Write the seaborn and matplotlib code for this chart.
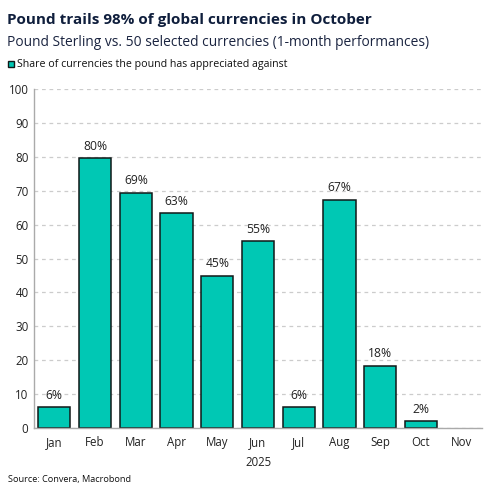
import matplotlib
matplotlib.use("Agg")
import matplotlib.pyplot as plt
import seaborn as sns
import pandas as pd
import numpy as np
from matplotlib.patches import Rectangle

months = ["Jan", "Feb", "Mar", "Apr", "May", "Jun", "Jul", "Aug", "Sep", "Oct", "Nov"]
share = [6.1, 79.6, 69.4, 63.3, 44.9, 55.1, 6.1, 67.3, 18.4, 2.0, np.nan]
labels = ["6%", "80%", "69%", "63%", "45%", "55%", "6%", "67%", "18%", "2%", ""]
yticks = [0, 10, 20, 30, 40, 50, 60, 70, 80, 90, 100]

sns.set_theme(style="white")
plt.rcParams['font.family'] = ['Open Sans', 'DejaVu Sans']

df = pd.DataFrame({"month": months, "share": share})

fig = plt.figure(figsize=(4.96, 4.97), dpi=100)
W, H = 496, 497
ax = fig.add_axes([34 / W, 1 - 428 / H, (482 - 34) / W, (428 - 89) / H])

bar_color = "#00C8B4"
sns.barplot(data=df, x="month", y="share", order=months, ax=ax, color=bar_color, width=0.79,
            edgecolor="#101818", linewidth=1.1, saturation=1)

ax.set_xlim(-0.5, len(months) - 0.5)
ax.set_ylim(0, 100)
ax.set_yticks(yticks)
ax.set_yticklabels([str(v) for v in yticks], fontsize=8.3, color="#222222")
ax.yaxis.grid(True, linestyle=(0, (3, 3)), color="#cccccc", linewidth=0.9)
ax.set_axisbelow(True)
ax.set_xlabel("2025", fontsize=8.3, color="#222222", labelpad=5)
ax.set_ylabel("")
ax.tick_params(axis="x", length=0, labelsize=8.3, colors="#222222", pad=6)
ax.tick_params(axis="y", length=4, direction="inout", color="#999999", pad=2)
ax.set_xticks(range(len(months)))
ax.set_xticks([i - 0.5 for i in range(len(months) + 1)], minor=True)
ax.tick_params(axis="x", which="minor", length=4, direction="out", color="#999999")

for s in ["top", "right"]:
    ax.spines[s].set_visible(False)
for s in ["left", "bottom"]:
    ax.spines[s].set_color("#aaaaaa")
    ax.spines[s].set_linewidth(1.0)

for i, (v, lab) in enumerate(zip(share, labels)):
    if lab:
        ax.annotate(lab, (i, v), xytext=(0, 4), textcoords="offset points",
                    ha="center", va="bottom", fontsize=8.7, color="#222222")

fig.text(7 / W, 1 - 24 / H, "Pound trails 98% of global currencies in October",
         fontsize=11.0, fontweight="bold", color="#0f1e3c", ha="left", va="baseline")
fig.text(7 / W, 1 - 46 / H, "Pound Sterling vs. 50 selected currencies (1-month performances)",
         fontsize=9.95, color="#1a2440", ha="left", va="baseline")
fig.patches.append(Rectangle((8 / W, 1 - 67 / H), 6 / W, 6 / H, transform=fig.transFigure,
                             facecolor=bar_color, edgecolor="#101818", linewidth=1.0))
fig.text(17 / W, 1 - 67 / H, "Share of currencies the pound has appreciated against",
         fontsize=7.7, color="#111111", ha="left", va="baseline")
fig.text(8 / W, 1 - 482 / H, "Source: Convera, Macrobond",
         fontsize=6.6, color="#111111", ha="left", va="baseline")

fig.savefig("out.png", dpi=100, facecolor="white")
